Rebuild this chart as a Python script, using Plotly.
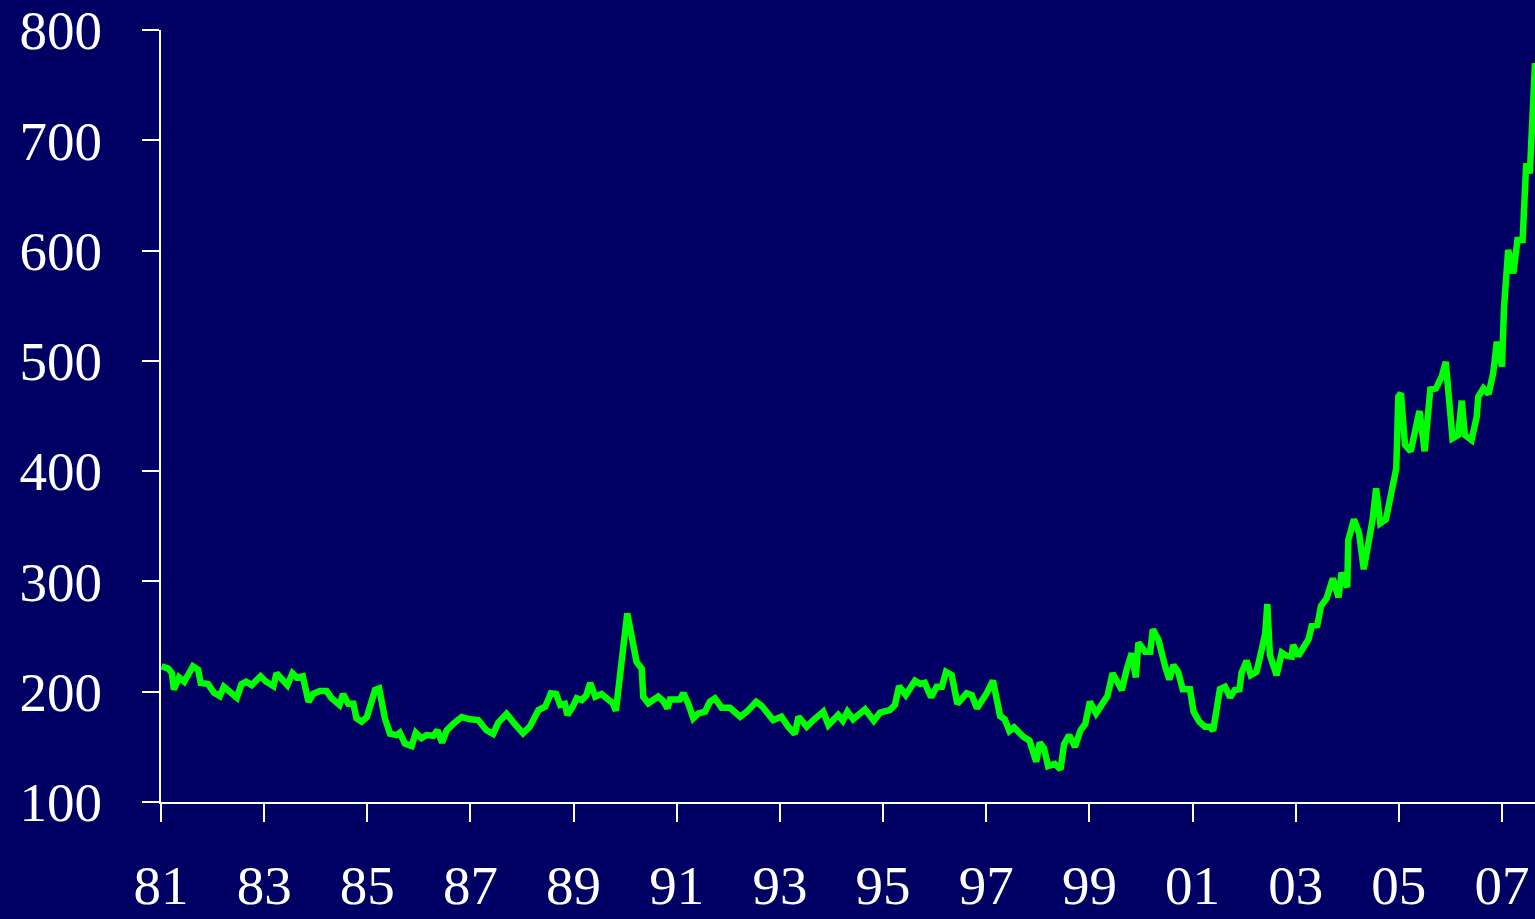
import plotly.graph_objects as go

# Observation dates (decimal years) and index values
years = [
    1981.01, 1981.14, 1981.21, 1981.25, 1981.35, 1981.45, 1981.62, 1981.72, 1981.77, 1981.91,
    1982.03, 1982.14, 1982.22, 1982.34, 1982.47, 1982.56, 1982.65, 1982.76, 1982.93,
    1983.04, 1983.18, 1983.24, 1983.34, 1983.45, 1983.55, 1983.63, 1983.75, 1983.86, 1983.95,
    1984.08, 1984.21, 1984.31, 1984.46, 1984.53, 1984.63, 1984.73, 1984.79, 1984.89, 1984.99,
    1985.15, 1985.23, 1985.34, 1985.44, 1985.57, 1985.63, 1985.73, 1985.86, 1985.94,
    1986.05, 1986.15, 1986.28, 1986.36, 1986.45, 1986.54, 1986.67, 1986.83, 1986.99,
    1987.15, 1987.31, 1987.44, 1987.54, 1987.70, 1987.86,
    1988.02, 1988.15, 1988.32, 1988.45, 1988.56, 1988.66, 1988.74, 1988.83, 1988.88, 1988.99,
    1989.06, 1989.16, 1989.25, 1989.32, 1989.42, 1989.54, 1989.67, 1989.76, 1989.82, 1989.93,
    1990.04, 1990.22, 1990.32, 1990.35, 1990.45, 1990.64, 1990.73, 1990.82, 1990.87,
    1991.06, 1991.13, 1991.22, 1991.32, 1991.42, 1991.55, 1991.64, 1991.74, 1991.87,
    1992.03, 1992.23, 1992.36, 1992.54, 1992.65, 1992.87,
    1993.03, 1993.16, 1993.29, 1993.36, 1993.52, 1993.65, 1993.84, 1993.94,
    1994.13, 1994.22, 1994.31, 1994.42, 1994.65, 1994.82, 1994.94,
    1995.13, 1995.23, 1995.31, 1995.44, 1995.62, 1995.72, 1995.81, 1995.93,
    1996.04, 1996.14, 1996.22, 1996.33, 1996.44, 1996.62, 1996.72, 1996.82,
    1997.01, 1997.13, 1997.27, 1997.36, 1997.45, 1997.54, 1997.72, 1997.84, 1997.97,
    1998.04, 1998.12, 1998.20, 1998.33, 1998.44, 1998.51, 1998.61, 1998.72, 1998.83, 1998.92,
    1999.01, 1999.13, 1999.27, 1999.35, 1999.45, 1999.63, 1999.72, 1999.82, 1999.90, 1999.95,
    2000.08, 2000.18, 2000.23, 2000.34, 2000.47, 2000.55, 2000.63, 2000.72, 2000.81, 2000.95,
    2001.02, 2001.13, 2001.24, 2001.33, 2001.40, 2001.53, 2001.63, 2001.73, 2001.82, 2001.91, 2001.95,
    2002.05, 2002.13, 2002.24, 2002.34, 2002.41, 2002.45, 2002.50, 2002.63, 2002.73, 2002.83, 2002.92, 2002.95,
    2003.05, 2003.18, 2003.25, 2003.31, 2003.42, 2003.49, 2003.60, 2003.72, 2003.83, 2003.89,
    2004.00, 2004.02, 2004.13, 2004.23, 2004.32, 2004.49, 2004.56, 2004.64, 2004.75, 2004.95, 2004.99,
    2005.04, 2005.12, 2005.23, 2005.31, 2005.40, 2005.50, 2005.61, 2005.72, 2005.83, 2005.91, 2005.98,
    2006.04, 2006.15, 2006.22, 2006.28, 2006.41, 2006.51, 2006.54, 2006.64, 2006.74, 2006.83, 2006.90,
    2007.00, 2007.04, 2007.12, 2007.22, 2007.30, 2007.40, 2007.47, 2007.54, 2007.64,
]

values = [
    223, 221, 217, 202, 213, 209, 223, 220, 208, 207,
    199, 196, 204.5, 200, 194.6, 206.7, 209, 206, 214,
    209, 205, 216.7, 212, 206, 216.7, 213, 214, 190.8, 198,
    200.6, 200.6, 194, 188, 198, 189, 189, 176, 172.8, 177,
    201.5, 203, 176, 162, 160.7, 162.8, 153, 150.8, 162.8,
    157.8, 160.7, 160, 165, 153.8, 165, 171, 177, 175,
    174.3, 165, 161.7, 172, 179.8, 170.7,
    162.3, 168.3, 183.4, 186.4, 198.6, 198, 188, 188.9, 178.9, 187,
    194, 192.5, 197, 208, 195.5, 198, 192, 189.5, 182.8, 227,
    271, 227, 221, 195.5, 189.5, 195.5, 192, 185, 193,
    193, 198.6, 189.5, 175.9, 180.4, 181.9, 190.9, 194, 185.5,
    185.5, 177.3, 181.9, 190.9, 187, 174.3,
    177.3, 168.3, 161.7, 177.3, 168.3, 174.3, 181.9, 169.8,
    178.9, 173.7, 181.9, 175, 184, 173.7, 181,
    183.4, 188, 205, 197, 210, 207, 208, 195,
    204.5, 204.5, 218, 215, 189, 198.6, 197, 185,
    198.6, 210, 178, 175, 164.4, 167.7, 159.2, 155.6, 136.5,
    153.8, 148.7, 132.6, 134.5, 129.6, 152.6, 160.7, 150, 165.3, 170.7,
    190.9, 180.4, 191.8, 196, 216.7, 201.5, 219.7, 234.8, 213, 244.4,
    236.3, 236.3, 256.6, 246.9, 222.7, 211, 224.2, 218, 202.2, 202.2,
    181.9, 172.8, 168.3, 168.3, 164.7, 202.2, 204.5, 195, 201.5, 202.2, 217.2,
    228.1, 215, 218, 237.8, 253, 279.5, 233.3, 215, 235.4, 232.4, 231.8, 242.4,
    232.4, 242.4, 247.5, 259.6, 260.5, 277.7, 284.7, 302.8, 285.6, 307.9,
    294.7, 337.6, 356.3, 343.6, 311, 355.7, 384.4, 352.7, 356.3, 402.6, 467.5,
    470.6, 423.7, 418, 434.3, 454.5, 418, 474, 475, 485.6, 499.2, 469,
    429.8, 432.8, 463.9, 432.8, 428.2, 449.4, 467.5, 475, 470, 488.7, 517.4,
    494.7, 549, 600.5, 579.4, 609.6, 609.6, 679, 670, 770,
]

x_tick_vals = [1981, 1983, 1985, 1987, 1989, 1991, 1993, 1995, 1997, 1999, 2001, 2003, 2005, 2007]
x_tick_text = ["81", "83", "85", "87", "89", "91", "93", "95", "97", "99", "01", "03", "05", "07"]
y_tick_vals = [100, 200, 300, 400, 500, 600, 700, 800]

NAVY = "#000064"
FONT = dict(family="Liberation Serif, Times New Roman, serif", size=55, color="white")

fig = go.Figure()
fig.add_trace(go.Scatter(
    x=years, y=values, mode="lines",
    line=dict(color="#00FF00", width=6.5),
    hoverinfo="skip", showlegend=False,
))

fig.update_layout(
    width=1535, height=919,
    margin=dict(l=161, r=0, t=30, b=117),
    paper_bgcolor=NAVY, plot_bgcolor=NAVY,
    font=FONT,
    xaxis=dict(
        range=[1981, 2007.64], tickvals=x_tick_vals, ticktext=x_tick_text,
        showgrid=False, zeroline=False, automargin=False,
        showline=True, linecolor="white", linewidth=2,
        ticks="outside", ticklen=18, tickwidth=2, tickcolor="white",
        ticklabelstandoff=16, tickfont=FONT,
    ),
    yaxis=dict(
        range=[100, 800], tickvals=y_tick_vals,
        showgrid=False, zeroline=False, automargin=False,
        showline=True, linecolor="white", linewidth=2,
        ticks="outside", ticklen=17, tickwidth=2, tickcolor="white",
        ticklabelstandoff=29, tickfont=FONT,
    ),
)

fig.write_html("out.html")
